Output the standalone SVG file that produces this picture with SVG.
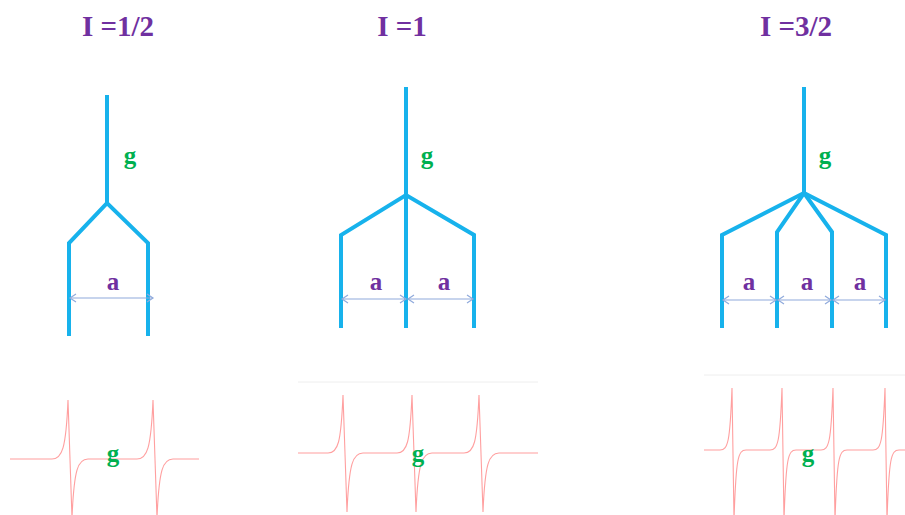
<svg xmlns="http://www.w3.org/2000/svg" width="905" height="515" viewBox="0 0 905 515">
<style>
.title{font-family:"Liberation Serif",serif;font-weight:bold;font-size:29px;fill:#7030A0;text-anchor:middle}
.a{font-family:"Liberation Serif",serif;font-weight:bold;font-size:25px;fill:#7030A0;text-anchor:middle}
.g{font-family:"Liberation Serif",serif;font-weight:bold;font-size:25px;fill:#00B050;text-anchor:middle}
.tree{fill:none;stroke:#17B2EC;stroke-width:4;stroke-linejoin:miter}
.dim{fill:none;stroke:#8FAADC;stroke-width:1.2;marker-start:url(#ah);marker-end:url(#ah)}
.spec{fill:none;stroke:#FF7F7F;stroke-width:1.1;stroke-opacity:0.75}
.rule{stroke:#EEEEEE;stroke-width:1}
</style>
<defs>
<marker id="ah" viewBox="-8 -5 10 10" markerWidth="10" markerHeight="10" refX="0" refY="0" orient="auto-start-reverse" markerUnits="userSpaceOnUse">
<path d="M-6,-4 L0,0 L-6,4" fill="none" stroke="#8FAADC" stroke-width="1.2"/>
</marker>
</defs>
<rect width="905" height="515" fill="#FFFFFF"/>

<g id="panel-half">
<text class="title" x="118" y="36">I =1/2</text>
<path class="tree" d="M107,95 L107,203"/>
<path class="tree" d="M69,336 L69,243 L107,203 L148,243 L148,336"/>
<text class="g" x="130" y="164">g</text>
<text class="a" x="113" y="290">a</text>
<path class="dim" d="M70,298 L153,298"/>
<path class="spec" d="M10,459 L52,459 C62,459 66,449 68,400 L72,518 C74,469 78,459 88,459 L137,459 C147,459 151,449 153,400 L157,518 C159,469 163,459 173,459 L199,459"/>
<text class="g" x="113" y="462">g</text>
</g>

<g id="panel-one">
<text class="title" x="402" y="36">I =1</text>
<path class="tree" d="M406,87 L406,328"/>
<path class="tree" d="M341,328 L341,235 L406,195 L474,235 L474,328"/>
<text class="g" x="427" y="164">g</text>
<text class="a" x="376" y="290">a</text>
<text class="a" x="444" y="290">a</text>
<path class="dim" d="M342,299 L406,299"/>
<path class="dim" d="M408,299 L473,299"/>
<line class="rule" x1="298" y1="382" x2="538" y2="382"/>
<path class="spec" d="M298,453 L328,453 C338,453 341,443 343,395 L347,512 C349,463 353,453 363,453 L397,453 C407,453 410,443 412,395 L416,512 C418,463 422,453 432,453 L464,453 C474,453 477,443 479,395 L483,512 C485,463 489,453 499,453 L538,453"/>
<text class="g" x="418" y="462">g</text>
</g>

<g id="panel-threehalf">
<text class="title" x="796" y="36">I =3/2</text>
<path class="tree" d="M804,87 L804,193"/>
<path class="tree" d="M722,328 L722,235 L804,193 L886,235 L886,328"/>
<path class="tree" d="M777,328 L777,232 L804,193 L832,232 L832,328"/>
<text class="g" x="825" y="164">g</text>
<text class="a" x="749" y="290">a</text>
<text class="a" x="807" y="290">a</text>
<text class="a" x="860" y="290">a</text>
<path class="dim" d="M723,300 L776,300"/>
<path class="dim" d="M778,300 L831,300"/>
<path class="dim" d="M833,300 L885,300"/>
<line class="rule" x1="704" y1="375" x2="905" y2="375"/>
<path class="spec" d="M704,450 L720,450 C728,450 730,442 732,388 L734,520 C736,458 738,450 746,450 L770,450 C778,450 780,442 782,388 L784,520 C786,458 788,450 796,450 L821,450 C829,450 831,442 833,388 L835,520 C837,458 839,450 847,450 L873,450 C881,450 883,442 885,388 L887,520 C889,458 891,450 899,450 L905,450"/>
<text class="g" x="808" y="462">g</text>
</g>
</svg>
